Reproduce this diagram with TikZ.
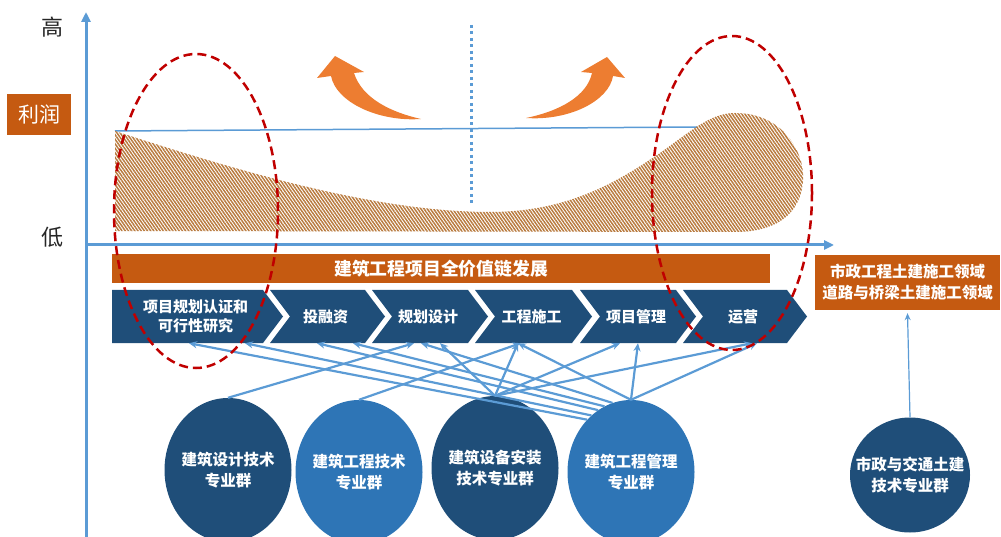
\documentclass[tikz,border=0pt]{standalone}
\usepackage{fontspec}
\setmainfont{Noto Sans CJK SC}
\usetikzlibrary{arrows.meta,shapes.geometric,patterns.meta}
\definecolor{axisblue}{RGB}{91,155,213}
\definecolor{darkblue}{RGB}{31,78,121}
\definecolor{midblue}{RGB}{46,117,182}
\definecolor{rust}{RGB}{197,90,17}
\definecolor{flame}{RGB}{237,125,49}
\definecolor{hatch}{RGB}{184,122,62}
\definecolor{ringred}{RGB}{192,0,0}
\tikzset{
  axisline/.style={axisblue, line width=3pt, -{Triangle[length=10pt,width=9pt]}},
  link/.style={axisblue, line width=2.2pt, -{Stealth[length=8pt,width=7pt]}},
  cluster/.style={ellipse, minimum width=127pt, minimum height=144pt, inner sep=0pt},
  clustertext/.style={text=white, font=\fontsize{15.5}{21}\selectfont\bfseries, align=center},
  stage/.style={minimum height=53pt, inner sep=0pt, text=white, font=\fontsize{15}{19}\selectfont\bfseries, align=center},
  rustbox/.style={fill=rust, text=white, inner sep=0pt, align=center},
  focusring/.style={draw=ringred, line width=2.5pt, dash pattern=on 9pt off 5pt, ellipse, inner sep=0pt}
}
\begin{document}
\begin{tikzpicture}[x=1pt, y=-1pt]
\useasboundingbox (0,0) rectangle (1001,537);
\draw[axisblue, line width=1.5pt] (115,131) -- (697,127);
\fill[pattern={Lines[angle=-55,distance=2.6pt,line width=1.5pt]}, pattern color=hatch]
  (115,131) .. controls (250,175) and (380,212) .. (490,212)
  .. controls (570,212) and (620,180) .. (660,153)
  .. controls (690,132) and (710,113) .. (735,113)
  .. controls (785,113) and (805,155) .. (803,180)
  .. controls (801,215) and (775,232) .. (735,232)
  -- (115,231) -- cycle;
\draw[axisblue, line width=3pt, dash pattern=on 3pt off 3.5pt] (471,25) -- (471,205);

\coordinate (origin) at (86,245);
\coordinate (ytop) at (86,12);
\coordinate (ybottom) at (86,537);
\coordinate (xend) at (834,245);
\draw[axisline] (ybottom) -- (ytop);
\draw[axisline] (origin) -- (xend);

\node[font=\fontsize{22}{22}\selectfont, text=black!85] (high) at (52,27) {高};
\node[font=\fontsize{22}{22}\selectfont, text=black!85] (low) at (52,237) {低};
\node[rustbox, minimum width=64pt, minimum height=41pt, font=\fontsize{21}{21}\selectfont] (profit) at (39,114.5) {利润};

\fill[flame] (421,119) .. controls (378,122) and (336,102) .. (331,76) -- (317,78) -- (335,56) -- (364,72) -- (354,73) .. controls (362,98) and (390,112) .. (421,119) -- cycle;
\fill[flame] (526,118) .. controls (569,121) and (609,101) .. (613,76) -- (625,78) -- (607,57) -- (581,72) -- (592,73) .. controls (587,96) and (560,111) .. (526,118) -- cycle;

\node[rustbox, minimum width=658pt, minimum height=29pt, font=\fontsize{17.8}{18}\selectfont\bfseries] (chain) at (441,268.5) {建筑工程项目全价值链发展};
\node[rustbox, minimum width=185pt, minimum height=55pt, font=\fontsize{15.5}{21}\selectfont\bfseries] (civil) at (907.5,282.5) {市政工程土建施工领域\\道路与桥梁土建施工领域};

\foreach \i/\l/\r/\n/\txt in {1/112/263/0/{项目规划认证和\\可行性研究}, 2/270/365/20/投融资, 3/372/468/20/规划设计, 4/475/572/20/工程施工, 5/580/676/20/项目管理, 6/683/787/20/运营}{
  \fill[darkblue] (\l,290) -- (\r,290) -- (\r+20,316.5) -- (\r,343) -- (\l,343) -- (\l+\n,316.5) -- cycle;
  \node[stage, minimum width=\r-\l] (st\i) at ({(\l+\r)/2+8},316.5) {\txt};
}

\node[cluster, fill=darkblue] (design) at (228,470) {};
\node[clustertext] (design text) at (design) {建筑设计技术\\专业群};
\node[cluster, fill=midblue] (tech) at (359,472) {};
\node[clustertext] (tech text) at (tech) {建筑工程技术\\专业群};
\node[cluster, fill=darkblue] (equip) at (495,468) {};
\node[clustertext] (equip text) at (equip) {建筑设备安装\\技术专业群};
\node[cluster, fill=midblue] (manage) at (631,472) {};
\node[clustertext] (manage text) at (manage) {建筑工程管理\\专业群};
\node[cluster, fill=darkblue, minimum width=120pt, minimum height=115pt] (municipal) at (910,475) {};
\node[clustertext] (municipal text) at (municipal) {市政与交通土建\\技术专业群};

\draw[link] (design.north) -- ([xshift=-14pt]st3.south);
\draw[link] (tech.north) -- ([xshift=-11pt]st4.south);
\draw[link] (equip.north) -- ([xshift=12pt]st3.south);
\draw[link] (equip.north) -- ([xshift=-13.5pt]st4.south);
\draw[link] (equip.north) -- ([xshift=-16pt]st5.south);
\draw[link] (equip.north) -- ([xshift=9pt]st6.south);
\draw[link] (manage.130) -- ([xshift=-6.5pt]st1.south);
\draw[link] (manage.125) -- ([xshift=49.5pt]st1.south);
\draw[link] (manage.118) -- ([xshift=-8.5pt]st2.south);
\draw[link] (manage.112) -- ([xshift=27.5pt]st2.south);
\draw[link] (manage.105) -- ([xshift=-7pt]st3.south);
\draw[link] (manage.north) -- ([xshift=-13.5pt]st4.south);
\draw[link] (manage.north) -- ([xshift=2pt]st5.south);
\draw[link] (manage.north) -- ([xshift=14pt]st6.south);
\draw[link, line width=1.2pt, -{Stealth[length=7pt,width=6pt]}] (municipal.north) -- ([yshift=-3pt]civil.south);

\node[focusring, minimum width=164pt, minimum height=314pt] (early ring) at (196,211) {};
\node[focusring, minimum width=160pt, minimum height=314pt] (late ring) at (732,193) {};
\end{tikzpicture}
\end{document}
